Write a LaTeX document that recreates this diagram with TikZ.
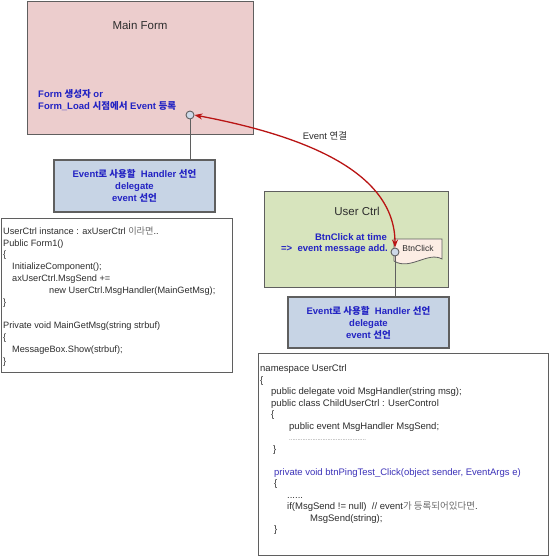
\documentclass[tikz,border=0pt]{standalone}
\usepackage{fontspec}
\setmainfont{Liberation Sans}
\newfontfamily\kr{Noto Sans CJK KR}
\usetikzlibrary{arrows.meta}
\definecolor{pinkfill}{RGB}{236,205,205}
\definecolor{bluefill}{RGB}{199,212,229}
\definecolor{greenfill}{RGB}{215,228,189}
\definecolor{flagfill}{RGB}{252,237,228}
\definecolor{portfill}{RGB}{205,217,232}
\definecolor{edge}{RGB}{95,95,95}
\definecolor{txtblue}{RGB}{35,35,195}
\definecolor{codeblue}{RGB}{60,50,185}
\definecolor{codegray}{RGB}{45,45,45}
\definecolor{kgray}{RGB}{110,110,110}
\definecolor{arrowred}{RGB}{185,20,20}
\tikzset{
  box/.style={draw=edge, line width=1.1pt, rectangle, inner sep=0pt},
  bbox/.style={box, fill=bluefill, align=center, text=txtblue,
    font=\fontsize{9.5}{12}\selectfont\bfseries},
  codebox/.style={draw=edge, line width=1pt, rectangle, fill=white, inner sep=0pt},
  codetext/.style={align=left, text=codegray, inner sep=0pt,
    font=\fontsize{9.2}{11.8}\selectfont},
  port/.style={circle, draw=edge, line width=0.9pt, fill=portfill, minimum size=8pt, inner sep=0pt},
  conn/.style={draw=edge, line width=1pt},
  title/.style={font=\fontsize{11.5}{13}\selectfont, text=codegray, inner sep=0pt},
  bluetxt/.style={font=\fontsize{9.5}{12}\selectfont\bfseries, text=txtblue, inner sep=0pt},
  redarrow/.style={draw=arrowred, line width=1.3pt,
    {Stealth[length=8pt,width=6pt]}-{Stealth[length=8pt,width=6pt]}}
}
\begin{document}
\begin{tikzpicture}[x=1pt,y=-1pt]
\useasboundingbox (0,0) rectangle (550,557);
\fill[white] (0,0) rectangle (550,557);

% Main form
\node[box, fill=pinkfill, minimum width=226pt, minimum height=133pt, anchor=north west] (main) at (27,1) {};
\node[title, anchor=base] (maint) at (140,29) {Main Form};
\node[bluetxt, anchor=base west] (mtxt1) at (38,97.5) {Form {\kr 생성자} or};
\node[bluetxt, anchor=base west] (mtxt2) at (38,109.5) {Form\_Load {\kr 시점에서} Event {\kr 등록}};
\node[port] (p1) at (190,115) {};

% Blue box 1
\node[bbox, minimum width=161pt, minimum height=52pt] (b1) at (134.5,186)
  {Event{\kr 로 사용할}\ \ Handler {\kr 선언}\\delegate\\event {\kr 선언}};
\draw[conn] (p1) -- (p1 |- b1.north);

% Code box 1
\node[codebox, minimum width=231pt, minimum height=154pt, anchor=north west] (c1) at (1,218) {};
\node[codetext, anchor=north west] (c1t) at (3,226)
  {\rule{0pt}{8pt}UserCtrl instance : axUserCtrl {\kr\color{kgray} 이라면}..\\
   Public Form1()\\
   \{\\
   \hspace*{9pt}InitializeComponent();\\
   \hspace*{9pt}axUserCtrl.MsgSend +=\\
   \hspace*{46pt}new UserCtrl.MsgHandler(MainGetMsg);\\
   \}\\
   \mbox{}\\
   Private void MainGetMsg(string strbuf)\\
   \{\\
   \hspace*{9pt}MessageBox.Show(strbuf);\\
   \}};

% User Ctrl
\node[box, fill=greenfill, minimum width=184pt, minimum height=96pt, anchor=north west] (uc) at (264,191) {};
\node[title, anchor=base] (uct) at (357,215) {User Ctrl};
\node[bluetxt, anchor=base east] (utxt1) at (387,240.5) {BtnClick at time};
\node[bluetxt, anchor=base east] (utxt2) at (388,251.5) {=>\ \ event message add.};
\draw[draw=edge, line width=0.8pt, fill=flagfill]
  (394,239) -- (442,239) -- (442,259) .. controls (428,251) and (410,271) .. (394,261) -- cycle;
\node[font=\fontsize{8.5}{10}\selectfont, text=codegray, inner sep=0pt] (flagt) at (418,248.5) {BtnClick};
\node[port] (p2) at (395,252) {};

% Blue box 2
\node[bbox, minimum width=161pt, minimum height=51pt] (b2) at (368.5,322.5)
  {Event{\kr 로 사용할}\ \ Handler {\kr 선언}\\delegate\\event {\kr 선언}};
\draw[conn] (p2) -- (p2 |- b2.north);

% Code box 2
\node[codebox, minimum width=290pt, minimum height=202pt, anchor=north west] (c2) at (258,353) {};
\node[codetext, anchor=north west, font=\fontsize{9.5}{11.5}\selectfont] (c2t) at (260,363.5)
  {\rule{0pt}{8pt}namespace UserCtrl\\
   \{\\
   \hspace*{11pt}public delegate void MsgHandler(string msg);\\
   \hspace*{11pt}public class ChildUserCtrl : UserControl\\
   \hspace*{11pt}\{\\
   \hspace*{29pt}public event MsgHandler MsgSend;\\
   \hspace*{29pt}{\color{kgray}\fontsize{6}{7}\selectfont ..............................................}\\
   \hspace*{13pt}\}\\
   \mbox{}\\
   \hspace*{14pt}{\color{codeblue}private void btnPingTest\_Click(object sender, EventArgs e)}\\
   \hspace*{14pt}\{\\
   \hspace*{27pt}......\\
   \hspace*{27pt}if(MsgSend != null)\ \ // event{\kr\color{kgray}가 등록되어있다면}.\\
   \hspace*{50pt}MsgSend(string);\\
   \hspace*{14pt}\}};

% Event connection
\draw[redarrow] (p1.east) .. controls (300,135) and (395,170) .. (p2.north);
\node[font=\fontsize{9.5}{11}\selectfont, text=codegray, inner sep=0pt] (evl) at (325,136) {Event {\kr 연결}};
\end{tikzpicture}
\end{document}
